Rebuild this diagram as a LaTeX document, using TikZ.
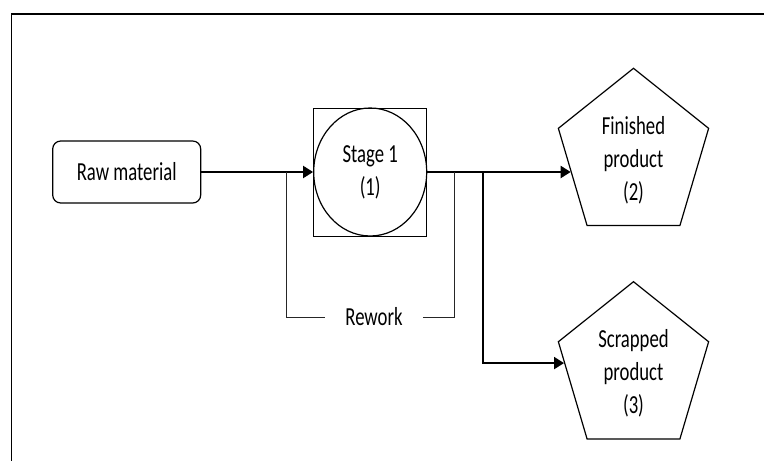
\documentclass[tikz,border=0pt]{standalone}
\usepackage{fontspec}
\setmainfont{Carlito}[FakeStretch=0.72]
\usetikzlibrary{shapes.geometric,arrows.meta,calc}

\begin{document}
\begin{tikzpicture}
  [x=1pt,y=-1pt,
   every node/.style={font=\fontsize{26}{33}\selectfont,inner sep=0pt},
   rawbox/.style={draw,line width=1.2pt,rounded corners=8pt,minimum width=148pt,minimum height=62pt},
   stagesq/.style={draw,line width=1pt,minimum width=113pt,minimum height=128pt},
   stageell/.style={ellipse,draw,line width=1.2pt,minimum width=113pt,minimum height=128pt,align=center},
   pent/.style={regular polygon,regular polygon sides=5,draw,line width=1.2pt,minimum size=158pt,yscale=1.1},
   pentlabel/.style={align=center,yshift=-5pt},
   flow/.style={line width=2pt,-{Triangle[length=10pt,width=12pt]}},
   rwline/.style={line width=1pt,black!85}]
  \useasboundingbox (0,0) rectangle (764,461);
  % frame
  \draw[line width=2.5pt] (11,14) -- (764,14);
  \draw[line width=1.2pt] (11.3,14) -- (11.3,461);

  \node[rawbox] (raw) at (126.7,172) {Raw material};
  \node[stagesq] (sq) at (370.2,172) {};
  \node[stageell] (st1) at (370.2,172) {Stage 1\\(1)};
  \node[pent,label={[pentlabel]center:{Finished\\product\\(2)}}] (fin) at (633.5,155.2) {};
  \node[pent,label={[pentlabel]center:{Scrapped\\product\\(3)}}] (scr) at (633.5,368.6) {};
  \node[inner xsep=20pt] (rw) at (374,317) {Rework};

  \coordinate (fin in) at ($(fin.corner 2)!0.45!(fin.corner 3)$);
  \coordinate (scr in) at ($(scr.corner 2)!0.22!(scr.corner 3)$);
  \coordinate (rwl) at (286,172);
  \coordinate (rwr) at (454.7,172);
  \coordinate (sp) at (482.5,172);

  \draw[flow] (raw) -- (st1);
  \draw[flow] (st1.east) -- (st1.east -| fin in);
  \draw[flow] (sp) |- (scr in);
  \draw[rwline] (rwl) |- (rw.west);
  \draw[rwline] (rw.east) -| (rwr);

\end{tikzpicture}
\end{document}
